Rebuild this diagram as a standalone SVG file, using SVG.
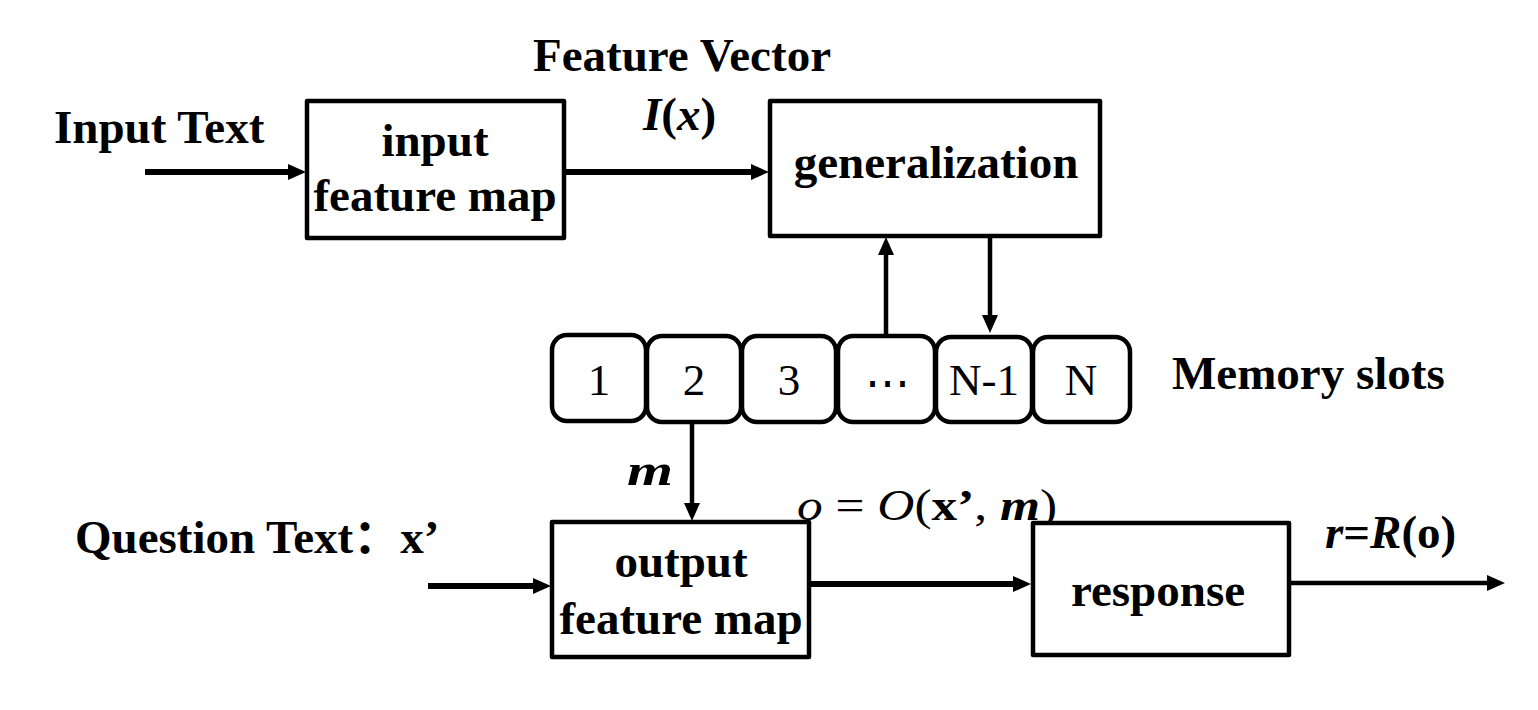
<svg xmlns="http://www.w3.org/2000/svg" width="1538" height="710" viewBox="0 0 1538 710">
<style>
.box{fill:#fff;stroke:#000;stroke-width:4.5;stroke-linejoin:round}
.slot{fill:#fff;stroke:#000;stroke-width:4.5}
.lbl{font-family:"Liberation Serif","Times New Roman",serif;font-weight:bold;font-size:47px;fill:#000}
.num{font-family:"Liberation Serif","Times New Roman",serif;font-size:45px;fill:#000;text-anchor:middle}
.math{font-family:"Liberation Serif","DejaVu Serif",serif;font-size:44px;fill:#000}
.c{text-anchor:middle}
.ln{stroke:#000;fill:none}
.thick{stroke-width:6}
.thin{stroke-width:4.5}
</style>
<defs>
<marker id="ah" markerUnits="userSpaceOnUse" markerWidth="20" markerHeight="18" refX="1" refY="8" orient="auto">
<path d="M0,0 L18,8 L0,16 z" fill="#000"/>
</marker>
</defs>
<rect width="1538" height="710" fill="#fff"/>

<g id="connectors">
<line class="ln thick" x1="145" y1="172" x2="289" y2="172" marker-end="url(#ah)"/>
<line class="ln thick" x1="564" y1="172" x2="752" y2="172" marker-end="url(#ah)"/>
<line class="ln thin" x1="886" y1="334" x2="886" y2="254" marker-end="url(#ah)"/>
<line class="ln thin" x1="990" y1="236" x2="990" y2="316" marker-end="url(#ah)"/>
<line class="ln thin" x1="692" y1="421" x2="692" y2="504" marker-end="url(#ah)"/>
<line class="ln thick" x1="428" y1="586" x2="534" y2="586" marker-end="url(#ah)"/>
<line class="ln thick" x1="811" y1="584" x2="1014" y2="584" marker-end="url(#ah)"/>
<line class="ln thin" x1="1290" y1="583" x2="1488" y2="583" marker-end="url(#ah)"/>
</g>

<g id="input-text"><text class="lbl" x="54" y="143">Input Text</text></g>
<g id="feature-vector"><text class="lbl" x="533" y="71">Feature Vector</text>
<text class="lbl" x="643" y="130"><tspan font-style="italic">I</tspan>(<tspan font-style="italic">x</tspan>)</text></g>

<g id="input-feature-map">
<rect class="box" x="307" y="101" width="257" height="137"/>
<text class="lbl c" x="435" y="156">input</text>
<text class="lbl c" x="435" y="211">feature map</text>
</g>

<g id="generalization">
<rect class="box" x="770" y="101" width="330" height="135"/>
<text class="lbl c" x="936" y="178">generalization</text>
</g>

<g id="memory-slots">
<g id="slot-1"><rect class="slot" x="552" y="335" width="94" height="86" rx="15"/><text class="num" x="599" y="395">1</text></g>
<g id="slot-2"><rect class="slot" x="647" y="336" width="94" height="86" rx="15"/><text class="num" x="694" y="395">2</text></g>
<g id="slot-3"><rect class="slot" x="742" y="336" width="94" height="86" rx="15"/><text class="num" x="789" y="395">3</text></g>
<g id="slot-dots"><rect class="slot" x="838" y="336" width="97" height="86" rx="15"/><text class="num" x="887" y="397">⋯</text></g>
<g id="slot-n1"><rect class="slot" x="936" y="337" width="96" height="85" rx="15"/><text class="num" x="984" y="395">N-1</text></g>
<g id="slot-n"><rect class="slot" x="1033" y="337" width="97" height="85" rx="15"/><text class="num" x="1081" y="395">N</text></g>
<text class="lbl" x="1172" y="389">Memory slots</text>
</g>

<g id="m-label"><text class="math" x="627" y="485" font-weight="bold" font-style="italic" font-size="58" textLength="46" lengthAdjust="spacingAndGlyphs">m</text></g>
<g id="o-label"><text class="math" x="797" y="520" textLength="260" lengthAdjust="spacingAndGlyphs"><tspan font-style="italic">o</tspan> = <tspan font-style="italic">O</tspan>(<tspan font-weight="bold">x’</tspan>, <tspan font-weight="bold" font-style="italic">m</tspan>)</text></g>

<g id="question-text"><text class="lbl" x="75" y="553">Question Text<tspan font-family="'Noto Sans CJK SC',sans-serif">：</tspan>x’</text></g>

<g id="output-feature-map">
<rect class="box" x="552" y="522" width="257" height="135"/>
<text class="lbl c" x="681" y="577">output</text>
<text class="lbl c" x="681" y="634">feature map</text>
</g>

<g id="response">
<rect class="box" x="1033" y="523" width="256" height="132"/>
<text class="lbl c" x="1158" y="606">response</text>
</g>

<g id="r-label"><text class="lbl" x="1325" y="548"><tspan font-style="italic">r</tspan>=<tspan font-style="italic">R</tspan>(o)</text></g>
</svg>
